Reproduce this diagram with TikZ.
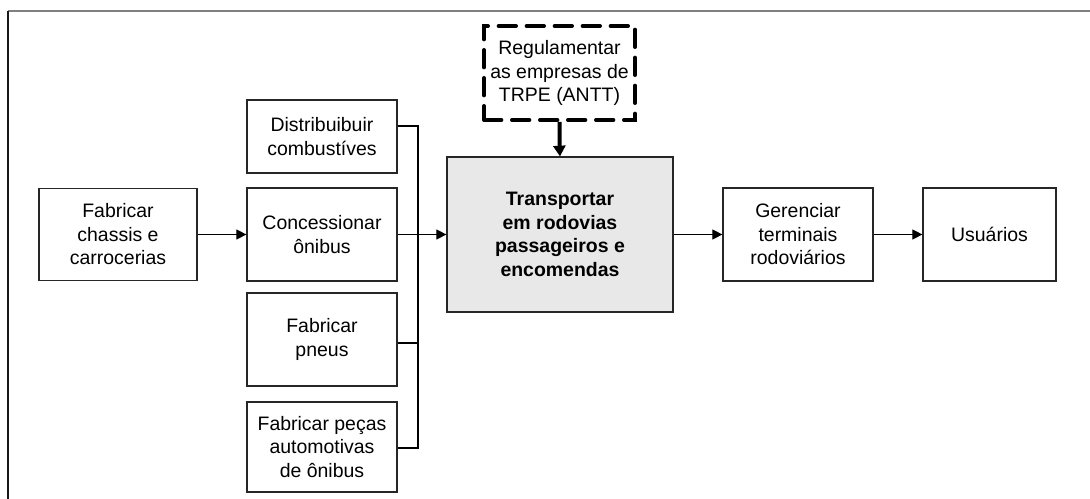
\documentclass[tikz,border=0pt]{standalone}
\usepackage{fontspec}
\setmainfont{Liberation Sans}
\usetikzlibrary{arrows.meta}
\begin{document}
\begin{tikzpicture}[x=0.75pt,y=-0.75pt,
  box/.style={draw=black!85,line width=0.9pt,fill=white,align=center,inner sep=0pt,
    font=\fontsize{14.6}{17.6}\selectfont},
  conn/.style={draw=black,line width=0.8pt},
  arr/.style={conn,-{Triangle[length=7.5pt,width=7.5pt]}}]
\useasboundingbox (0,0) rectangle (1090,499);
% frame
\coordinate (ftl) at (8,11);
\coordinate (ftr) at (1090,11);
\coordinate (fbl) at (8,499);
\draw[black!50,line width=1.3pt] (ftl) -- (ftr);
\draw[black!90,line width=1.3pt] (ftl) -- (fbl);
% nodes
\node[box,minimum width=158*0.75pt,minimum height=92*0.75pt] (chassis) at (118,234.5) {Fabricar\\chassis e\\carrocerias};
\node[box,minimum width=150*0.75pt,minimum height=73*0.75pt] (dist) at (322,136.5) {Distribuibuir\\combustíves};
\node[box,minimum width=150*0.75pt,minimum height=93*0.75pt] (conc) at (322,234.5) {Concessionar\\ônibus};
\node[box,minimum width=150*0.75pt,minimum height=93*0.75pt] (pneus) at (322,339.5) {Fabricar\\pneus};
\node[box,minimum width=150*0.75pt,minimum height=90*0.75pt] (pecas) at (322,447) {Fabricar peças\\automotivas\\de ônibus};
\node[box,fill=black!9,minimum width=226*0.75pt,minimum height=155*0.75pt,font=\fontsize{14.6}{17.6}\selectfont\bfseries] (trans) at (560,234.5) {Transportar\\em rodovias\\passageiros e\\encomendas};
\node[box,draw=black,line width=3pt,dash pattern=on 13pt off 8pt,line cap=round,minimum width=151*0.75pt,minimum height=94*0.75pt] (reg) at (559.5,73) {Regulamentar\\as empresas de\\TRPE (ANTT)};
\node[box,minimum width=150*0.75pt,minimum height=93*0.75pt] (ger) at (798,234.5) {Gerenciar\\terminais\\rodoviários};
\node[box,minimum width=133*0.75pt,minimum height=93*0.75pt] (usu) at (989.5,234.5) {Usuários};
% bus
\coordinate (bt) at (418,126);
\coordinate (bb) at (418,448);
\coordinate (bp) at (418,343);
\draw[conn] (dist.east |- bt) -- (bt) -- (bb) -- (pecas.east |- bb);
\draw[conn] (pneus.east |- bp) -- (bp);
% arrows
\draw[arr] (chassis) -- (conc);
\draw[arr] (conc) -- (trans);
\draw[arr] (trans) -- (ger);
\draw[arr] (ger) -- (usu);
\draw[arr,line width=3pt,-{Triangle[length=8pt,width=9pt]}] (reg.south) -- ++(0,26) -- (trans.north);
\end{tikzpicture}
\end{document}
